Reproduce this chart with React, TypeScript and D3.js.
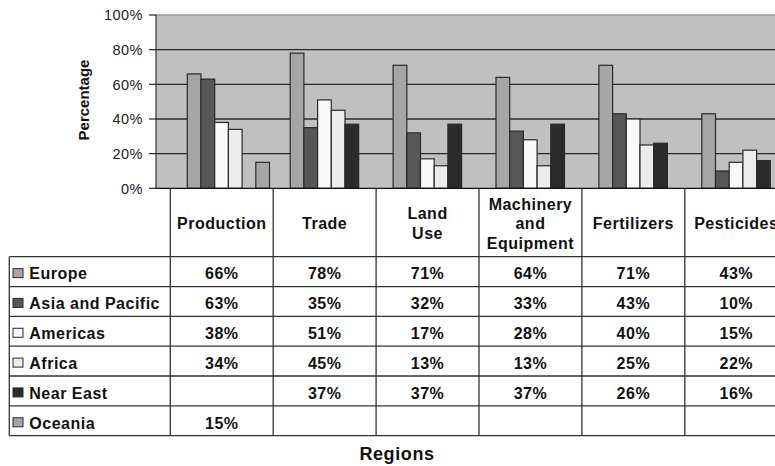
import React from "react";
import * as d3 from "d3";

// Survey categories (table columns / bar groups)
const categories = ["Production", "Trade", "Land Use", "Machinery and Equipment", "Fertilizers", "Pesticides"];
const categoryLines = [["Production"], ["Trade"], ["Land", "Use"], ["Machinery", "and", "Equipment"], ["Fertilizers"], ["Pesticides"]];

// Regions (series) and their shares per category, in percent; null = no data
const regions = ["Europe", "Asia and Pacific", "Americas", "Africa", "Near East", "Oceania"];
const europe = [66, 78, 71, 64, 71, 43];
const asiaPacific = [63, 35, 32, 33, 43, 10];
const americas = [38, 51, 17, 28, 40, 15];
const africa = [34, 45, 13, 13, 25, 22];
const nearEast = [null, 37, 37, 37, 26, 16];
const oceania = [15, null, null, null, null, null];
const seriesValues: (number | null)[][] = [europe, asiaPacific, americas, africa, nearEast, oceania];

const regionColors = ["#a6a6a6", "#575757", "#f9f9f9", "#ececec", "#2b2b2b", "#a6a6a6"];
const yTicks = [0, 20, 40, 60, 80, 100];

const W = 775;
const H = 466;
const FONT = "'Liberation Sans', Arial, Helvetica, sans-serif";

export default function App() {
  const axisX = 156;
  const plotTop = 15;
  const plotBottom = 188.3;

  const y = d3.scaleLinear().domain([0, 100]).range([plotBottom, plotTop]);
  const x = d3.scaleBand<string>().domain(categories).range([170.3, 787.7]);

  // bars inside each category column
  const barW = 13.7;
  const groupInset = 17;
  const xs = d3.scaleBand<string>().domain(regions).range([0, barW * regions.length]);

  // data table geometry
  const tableLeft = 9.3;
  const headerTop = plotBottom;
  const rowsTop = 256.7;
  const rowH = 29.83;
  const rowY = d3.scaleLinear().domain([0, regions.length]).range([rowsTop, rowsTop + rowH * regions.length]);
  const tableBottom = rowY(regions.length);
  const tableRight = x.range()[1];

  const lineColor = "#333";
  const tableText = { fontFamily: FONT, fontWeight: 700, fontSize: 16, letterSpacing: 0.5, fill: "#111" } as const;

  return (
    <svg width={W} height={H} style={{ position: "absolute", left: 0, top: 0, background: "#fff" }}>
      {/* plot background */}
      <rect x={axisX} y={plotTop} width={W - axisX + 20} height={plotBottom - plotTop} fill="#c0c0c0" />
      <line x1={axisX} x2={W + 20} y1={plotTop} y2={plotTop} stroke="#9a9a9a" strokeWidth={1.3} />

      {/* gridlines */}
      {yTicks.filter((t) => t > 0 && t < 100).map((t) => (
        <line key={t} x1={axisX} x2={W + 20} y1={y(t)} y2={y(t)} stroke="#2a2a2a" strokeWidth={1.3} />
      ))}

      {/* bars */}
      {categories.map((c, ci) => (
        <g key={c} transform={`translate(${(x(c) ?? 0) + groupInset},0)`}>
          {regions.map((r, ri) => {
            const v = seriesValues[ri][ci];
            if (v == null) return null;
            return (
              <rect
                key={r}
                x={xs(r)}
                y={y(v)}
                width={xs.bandwidth()}
                height={y(0) - y(v)}
                fill={regionColors[ri]}
                stroke="#2a2a2a"
                strokeWidth={1.2}
              />
            );
          })}
        </g>
      ))}

      {/* y axis */}
      <line x1={axisX} x2={axisX} y1={plotTop} y2={plotBottom} stroke="#333" strokeWidth={1.2} />
      {yTicks.map((t) => (
        <g key={t}>
          <line x1={axisX - 7} x2={axisX} y1={y(t)} y2={y(t)} stroke="#222" strokeWidth={1.2} />
          <text
            x={143}
            y={y(t)}
            dy="0.36em"
            textAnchor="end"
            fontFamily={FONT}
            fontSize={14.5}
            letterSpacing={0.5}
            fill="#222"
          >
            {`${t}%`}
          </text>
        </g>
      ))}
      <text
        transform={`translate(89,100) rotate(-90)`}
        textAnchor="middle"
        fontFamily={FONT}
        fontWeight={700}
        fontSize={15}
        fill="#111"
      >
        Percentage
      </text>

      {/* category axis line / table top */}
      <line x1={axisX} x2={W + 20} y1={plotBottom} y2={plotBottom} stroke="#111" strokeWidth={1.3} />

      {/* data table: header cells */}
      {categories.map((c, ci) => {
        const lines = categoryLines[ci];
        const cx = (x(c) ?? 0) + x.bandwidth() / 2;
        const cy = (headerTop + rowsTop) / 2 + 1;
        return (
          <text key={c} textAnchor="middle" {...tableText}>
            {lines.map((ln, li) => (
              <tspan key={li} x={cx} y={cy + (li - (lines.length - 1) / 2) * 19.6} dy="0.36em">
                {ln}
              </tspan>
            ))}
          </text>
        );
      })}

      {/* data table: rows */}
      {regions.map((r, ri) => {
        const cy = (rowY(ri) + rowY(ri + 1)) / 2 + 2;
        return (
          <g key={r}>
            <rect x={13} y={cy - 5} width={10} height={9} fill={regionColors[ri]} stroke="#2a2a2a" strokeWidth={1} />
            <text x={29.3} y={cy} dy="0.36em" {...tableText}>
              {r}
            </text>
            {categories.map((c, ci) => {
              const v = seriesValues[ri][ci];
              if (v == null) return null;
              return (
                <text key={c} x={(x(c) ?? 0) + x.bandwidth() / 2} y={cy} dy="0.36em" textAnchor="middle" {...tableText}>
                  {`${v}%`}
                </text>
              );
            })}
          </g>
        );
      })}

      {/* data table: grid lines */}
      {d3.range(regions.length + 1).map((i) => (
        <line key={`h${i}`} x1={tableLeft} x2={tableRight} y1={rowY(i)} y2={rowY(i)} stroke={lineColor} strokeWidth={1.3} />
      ))}
      <line x1={tableLeft} x2={tableLeft} y1={rowsTop} y2={tableBottom} stroke={lineColor} strokeWidth={1.3} />
      {categories.map((c) => (
        <line key={`v${c}`} x1={x(c)} x2={x(c)} y1={headerTop} y2={tableBottom} stroke={lineColor} strokeWidth={1.3} />
      ))}
      <line x1={tableRight} x2={tableRight} y1={headerTop} y2={tableBottom} stroke={lineColor} strokeWidth={1.3} />

      {/* category axis title */}
      <text
        x={397}
        y={459.5}
        textAnchor="middle"
        fontFamily={FONT}
        fontWeight={700}
        fontSize={18}
        letterSpacing={0.6}
        fill="#111"
      >
        Regions
      </text>
    </svg>
  );
}
